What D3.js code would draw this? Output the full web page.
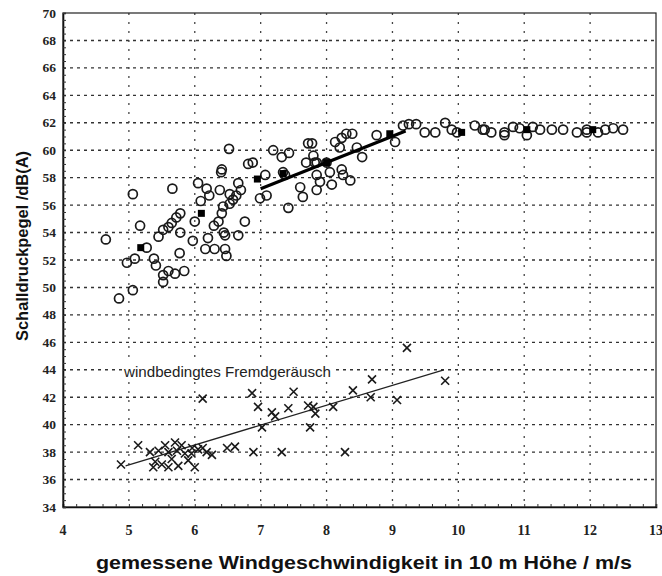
<!DOCTYPE html>
<html>
<head>
<meta charset="utf-8">
<script src="https://cdn.jsdelivr.net/npm/d3@7"></script>
<style>
  body { margin: 0; background: #fff; }
  svg { display: block; }
</style>
</head>
<body>
<svg id="chart" width="662" height="576"></svg>
<script>
// gemessene Werte (Kreise): Anlage + Hintergrund
const circleX = [4.65, 5.06, 5.17, 4.97, 5.09, 5.06, 4.85, 5.27, 5.38, 5.41, 5.45, 5.52, 5.6, 5.65, 5.72, 5.78,
  5.66, 5.78, 5.77, 5.52, 5.6, 5.7, 5.84, 5.52, 5.97, 6.0, 6.05, 6.09, 6.16, 6.2, 6.18, 6.22, 6.3, 6.29, 6.36,
  6.41, 6.43, 6.38, 6.4, 6.41, 6.44, 6.46, 6.46, 6.48, 6.52, 6.53, 6.53, 6.58, 6.63, 6.66, 6.7, 6.66, 6.76,
  6.81, 6.88, 6.99, 7.09, 7.07, 7.19, 7.32, 7.43, 7.34, 7.37, 7.42, 7.6, 7.64, 7.72, 7.69, 7.8, 7.85, 7.9,
  7.85, 7.78, 8.13, 8.23, 8.3, 8.39, 8.2, 8.46, 8.54, 7.82, 8.0, 8.05, 8.23, 8.25, 8.36, 7.85, 8.08, 8.76,
  9.04, 9.16, 9.25, 9.36, 9.49, 9.65, 9.8, 9.9, 9.98, 10.25, 10.37, 10.4, 10.5, 10.7, 10.7, 10.83, 10.93,
  11.04, 11.13, 11.24, 11.42, 11.59, 11.8, 11.95, 11.95, 12.12, 12.23, 12.35, 12.5];
const circleY = [53.5, 56.8, 54.5, 51.8, 52.1, 49.8, 49.2, 52.9, 52.1, 51.6, 53.7, 54.2, 54.4, 54.7, 55.1, 55.4,
  57.2, 54.0, 52.5, 50.9, 51.2, 51.0, 51.2, 50.4, 53.4, 54.8, 57.6, 56.3, 52.8, 53.6, 57.2, 56.7, 52.8, 54.5, 54.8,
  55.4, 55.9, 57.1, 58.4, 58.6, 54.0, 53.8, 52.8, 52.3, 60.1, 56.1, 56.8, 56.4, 56.7, 57.6, 57.1, 53.8, 54.8,
  59.0, 59.1, 56.5, 56.7, 58.2, 60.0, 59.5, 59.8, 58.4, 58.2, 55.8, 57.3, 56.6, 60.5, 59.1, 59.6, 59.1, 57.7,
  57.1, 60.5, 60.6, 60.9, 61.2, 61.2, 60.2, 60.2, 59.5, 59.1, 59.1, 58.4, 58.6, 58.2, 57.8, 58.2, 57.5, 61.1,
  60.6, 61.8, 61.9, 61.9, 61.3, 61.3, 62.0, 61.5, 61.3, 61.8, 61.5, 61.5, 61.3, 61.3, 61.1, 61.7, 61.6,
  61.1, 61.7, 61.5, 61.5, 61.5, 61.3, 61.3, 61.5, 61.3, 61.5, 61.6, 61.5];

// Klassenmittelwerte (gefüllte Quadrate)
const meanX = [5.18, 6.1, 6.95, 7.34, 8.0, 8.96, 10.05, 11.04, 12.04];
const meanY = [52.9, 55.4, 57.9, 58.3, 59.1, 61.2, 61.3, 61.5, 61.5];

// windbedingtes Fremdgeräusch (Kreuze)
const crossX = [4.88, 5.14, 5.32, 5.37, 5.45, 5.55, 5.6, 5.65, 5.6, 5.73, 5.8, 5.85, 5.9, 5.96, 6.0, 6.12, 6.18,
  6.26, 6.12, 6.49, 6.61, 6.89, 6.87, 6.96, 7.02, 7.17, 7.22, 7.32, 7.42, 7.5, 7.72, 7.8, 7.83, 7.75, 8.1, 8.28,
  8.4, 8.69, 8.67, 9.07, 9.22, 9.8, 5.7, 5.4, 5.5, 5.75, 5.95, 6.05];
const crossY = [37.1, 38.5, 38.0, 36.9, 38.1, 38.5, 38.0, 37.5, 36.9, 38.1, 38.5, 37.9, 37.4, 38.3, 36.9, 38.3, 38.0,
  37.8, 41.9, 38.3, 38.4, 38.0, 42.3, 41.3, 39.8, 40.9, 40.6, 38.0, 41.2, 42.4, 41.4, 41.3, 40.8, 39.8, 41.3, 38.0,
  42.5, 43.3, 42.0, 41.8, 45.6, 43.2, 38.7, 37.3, 37.1, 37.0, 37.9, 38.2];

// Ausgleichsgeraden
const upperFitX = [7.0, 9.2];
const upperFitY = [57.2, 61.4];
const lowerFitX = [4.95, 9.78];
const lowerFitY = [37.0, 44.0];

const xTicks = [4, 5, 6, 7, 8, 9, 10, 11, 12, 13];
const yTicks = [34, 36, 38, 40, 42, 44, 46, 48, 50, 52, 54, 56, 58, 60, 62, 64, 66, 68, 70];

const plotLeft = 63, plotRight = 656, plotTop = 13, plotBottom = 507;

const x = d3.scaleLinear().domain([4, 13]).range([plotLeft, plotRight]);
const y = d3.scaleLinear().domain([34, 70]).range([plotBottom, plotTop]);

const svg = d3.select("#chart");

// grid
svg.append("g")
    .selectAll("line")
    .data(yTicks.slice(1, -1))
    .enter().append("line")
    .attr("x1", plotLeft).attr("x2", plotRight)
    .attr("y1", d => y(d)).attr("y2", d => y(d))
    .attr("stroke", "#333")
    .attr("stroke-width", 1.4)
    .attr("stroke-dasharray", "3,4");

svg.append("g")
    .selectAll("line")
    .data(xTicks.slice(1, -1))
    .enter().append("line")
    .attr("x1", d => x(d)).attr("x2", d => x(d))
    .attr("y1", plotTop).attr("y2", plotBottom)
    .attr("stroke", "#444")
    .attr("stroke-width", 1.3)
    .attr("stroke-dasharray", "2,7");

// frame
svg.append("rect")
    .attr("x", plotLeft).attr("y", plotTop)
    .attr("width", plotRight - plotLeft).attr("height", plotBottom - plotTop)
    .attr("fill", "none")
    .attr("stroke", "#222")
    .attr("stroke-width", 1.2);

// axes with minor ticks
const xAxis = d3.axisBottom(x).tickValues(d3.range(4, 13.01, 0.2)).tickSize(-3).tickFormat("");
svg.append("g")
    .attr("transform", `translate(0,${plotBottom})`)
    .call(xAxis)
    .call(g => g.select(".domain").attr("stroke", "#111").attr("stroke-width", 1.6))
    .call(g => g.selectAll(".tick line").attr("stroke", "#333"));

const yAxis = d3.axisLeft(y).tickValues(d3.range(34, 70.01, 0.5)).tickSize(-3).tickFormat("");
svg.append("g")
    .attr("transform", `translate(${plotLeft},0)`)
    .call(yAxis)
    .call(g => g.select(".domain").attr("stroke", "#111").attr("stroke-width", 1.6))
    .call(g => g.selectAll(".tick line").attr("stroke", "#333"));

// tick labels
svg.append("g")
    .selectAll("text")
    .data(xTicks)
    .enter().append("text")
    .attr("x", d => x(d))
    .attr("y", 535)
    .attr("text-anchor", "middle")
    .attr("font-family", "Liberation Serif")
    .attr("font-size", 14)
    .attr("font-weight", "bold")
    .attr("fill", "#222")
    .text(d => d);

svg.append("g")
    .selectAll("text")
    .data(yTicks)
    .enter().append("text")
    .attr("x", 56)
    .attr("y", d => y(d) + 4.5)
    .attr("text-anchor", "end")
    .attr("font-family", "Liberation Serif")
    .attr("font-size", 13.5)
    .attr("font-weight", "bold")
    .attr("fill", "#222")
    .text(d => d);

// annotation with white backing over the grid
svg.append("rect")
    .attr("x", 122).attr("y", 363)
    .attr("width", 212).attr("height", 17)
    .attr("fill", "#fff");
svg.append("text")
    .attr("x", 124)
    .attr("y", 377)
    .attr("font-family", "Liberation Sans")
    .attr("font-size", 14.5)
    .attr("fill", "#222")
    .attr("textLength", 207)
    .attr("lengthAdjust", "spacingAndGlyphs")
    .text("windbedingtes Fremdgeräusch");

// fit lines
svg.append("line")
    .attr("x1", x(lowerFitX[0])).attr("y1", y(lowerFitY[0]))
    .attr("x2", x(lowerFitX[1])).attr("y2", y(lowerFitY[1]))
    .attr("stroke", "#222")
    .attr("stroke-width", 1.3);

// circles
svg.append("g")
    .selectAll("circle")
    .data(circleX.map((d, i) => [d, circleY[i]]))
    .enter().append("circle")
    .attr("cx", d => x(d[0]))
    .attr("cy", d => y(d[1]))
    .attr("r", 4.5)
    .attr("fill", "none")
    .attr("stroke", "#1a1a1a")
    .attr("stroke-width", 1.7);

svg.append("line")
    .attr("x1", x(upperFitX[0])).attr("y1", y(upperFitY[0]))
    .attr("x2", x(upperFitX[1])).attr("y2", y(upperFitY[1]))
    .attr("stroke", "#000")
    .attr("stroke-width", 3.2);

// means
svg.append("g")
    .selectAll("rect")
    .data(meanX.map((d, i) => [d, meanY[i]]))
    .enter().append("rect")
    .attr("x", d => x(d[0]) - 3.5)
    .attr("y", d => y(d[1]) - 3.5)
    .attr("width", 7).attr("height", 7)
    .attr("fill", "#000");

// crosses
const cs = 4;
svg.append("g")
    .selectAll("path")
    .data(crossX.map((d, i) => [d, crossY[i]]))
    .enter().append("path")
    .attr("d", d => {
        const cx = x(d[0]), cy = y(d[1]);
        return `M${cx - cs},${cy - cs}L${cx + cs},${cy + cs}M${cx - cs},${cy + cs}L${cx + cs},${cy - cs}`;
    })
    .attr("stroke", "#1a1a1a")
    .attr("stroke-width", 1.6)
    .attr("fill", "none");

// axis titles
svg.append("text")
    .attr("transform", "translate(28,246) rotate(-90)")
    .attr("text-anchor", "middle")
    .attr("font-family", "Liberation Sans")
    .attr("font-weight", "bold")
    .attr("font-size", 16)
    .attr("fill", "#111")
    .attr("textLength", 190)
    .attr("lengthAdjust", "spacingAndGlyphs")
    .text("Schalldruckpegel /dB(A)");

svg.append("text")
    .attr("x", 364)
    .attr("y", 569)
    .attr("text-anchor", "middle")
    .attr("font-family", "Liberation Sans")
    .attr("font-weight", "bold")
    .attr("font-size", 18)
    .attr("fill", "#111")
    .attr("textLength", 536)
    .attr("lengthAdjust", "spacingAndGlyphs")
    .text("gemessene Windgeschwindigkeit in 10 m Höhe /  m/s");
</script>
</body>
</html>
